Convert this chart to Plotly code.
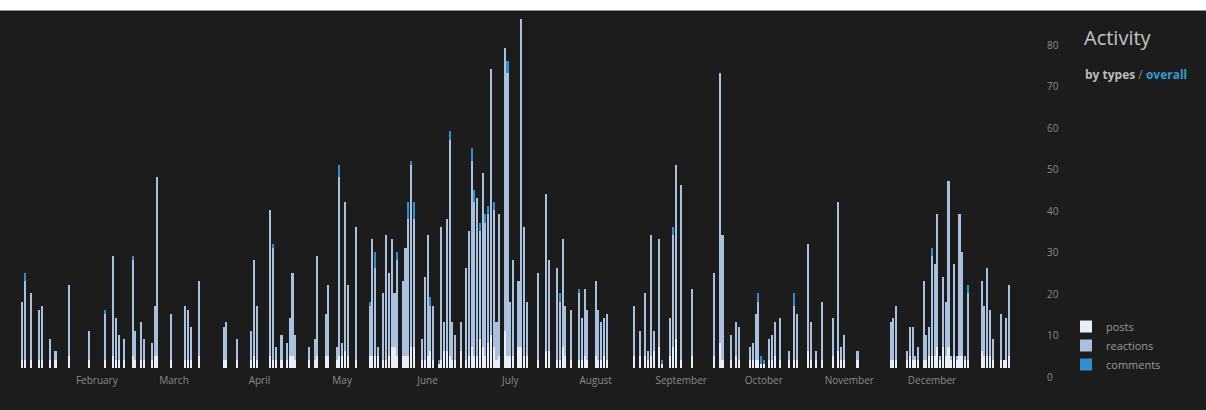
import pandas as pd
import plotly.graph_objects as go

# Day-of-year index (0 = January 1) for each day with activity
days = [4, 5, 7, 10, 11, 14, 16, 21, 28, 34, 37, 38, 39, 41, 44, 45, 47, 48, 51, 52,
        53, 58, 63, 64, 65, 68, 77, 78, 82, 87, 88, 89, 94, 95, 96, 98, 100, 101, 102, 103,
        108, 110, 111, 114, 115, 118, 119, 120, 121, 122, 125, 130, 131, 132, 133, 135, 136, 137, 138, 139,
        140, 142, 143, 144, 145, 146, 149, 150, 151, 152, 153, 155, 156, 157, 158, 159, 160, 161, 163, 165,
        166, 167, 168, 169, 170, 171, 172, 173, 174, 175, 176, 177, 179, 180, 181, 182, 184, 185, 186, 187,
        191, 194, 195, 198, 199, 200, 201, 203, 206, 207, 208, 209, 212, 213, 214, 215, 216, 226, 228, 230,
        231, 232, 233, 235, 236, 239, 240, 241, 243, 247, 255, 257, 258, 261, 263, 264, 268, 269, 270, 271,
        272, 273, 275, 276, 277, 279, 282, 284, 285, 289, 290, 292, 294, 298, 300, 301, 302, 307, 319, 320,
        321, 325, 326, 327, 328, 329, 331, 332, 333, 334, 335, 336, 337, 338, 339, 340, 341, 342, 343, 344,
        345, 346, 347, 352, 353, 354, 355, 356, 359, 360, 361, 362]

posts = [2, 2, 2, 2, 2, 2, 2, 3, 2, 2, 3, 2, 2, 2, 3, 2, 2, 2, 2, 3,
         3, 2, 2, 2, 2, 3, 2, 2, 2, 2, 3, 2, 3, 2, 2, 2, 2, 3, 3, 2,
         2, 2, 3, 3, 3, 2, 3, 3, 4, 3, 2, 3, 3, 3, 3, 2, 2, 3, 5, 5,
         3, 3, 3, 3, 5, 5, 2, 2, 3, 4, 2, 1, 2, 4, 4, 3, 2, 2, 4, 2,
         3, 5, 3, 3, 7, 5, 3, 6, 8, 5, 2, 3, 9, 3, 3, 3, 5, 5, 3, 3,
         2, 4, 4, 2, 2, 5, 3, 2, 2, 2, 3, 2, 3, 2, 2, 3, 2, 3, 3, 3,
         2, 3, 4, 5, 1, 3, 5, 7, 2, 3, 3, 6, 2, 2, 3, 2, 2, 2, 2, 2,
         1, 1, 2, 2, 3, 2, 2, 2, 2, 4, 2, 2, 2, 3, 4, 2, 2, 2, 2, 2,
         2, 2, 3, 2, 2, 2, 2, 2, 3, 3, 3, 5, 2, 5, 3, 5, 2, 3, 2, 3,
         3, 2, 2, 4, 3, 3, 3, 2, 2, 2, 2, 3]

reactions = [14, 19, 16, 12, 13, 5, 2, 17, 7, 11, 24, 10, 6, 5, 23, 7, 9, 5, 4, 12,
             43, 11, 13, 12, 8, 18, 8, 9, 5, 7, 23, 13, 35, 27, 3, 6, 4, 9, 20, 6,
             3, 5, 24, 10, 17, 3, 43, 3, 36, 17, 32, 12, 28, 21, 2, 16, 30, 20, 26, 13,
             23, 18, 26, 33, 44, 31, 5, 20, 29, 11, 13, 0, 32, 7, 32, 52, 9, 6, 7, 22,
             30, 45, 37, 38, 26, 42, 32, 31, 64, 33, 9, 34, 68, 68, 13, 23, 16, 79, 31, 13,
             21, 38, 22, 22, 14, 26, 12, 12, 16, 10, 16, 12, 18, 12, 9, 9, 11, 12, 6, 15,
             2, 29, 5, 26, 0, 9, 27, 42, 42, 16, 20, 65, 30, 6, 8, 8, 3, 4, 11, 14,
             0, 0, 5, 6, 8, 10, 2, 13, 11, 26, 9, 2, 14, 9, 36, 3, 6, 2, 9, 10,
             13, 2, 7, 8, 1, 3, 19, 6, 7, 24, 22, 32, 1, 17, 13, 40, 1, 22, 1, 34,
             25, 1, 16, 17, 12, 21, 11, 5, 11, 0, 10, 17]

comments = [0, 2, 0, 0, 0, 0, 0, 0, 0, 1, 0, 0, 0, 0, 1, 0, 0, 0, 0, 0,
            0, 0, 0, 0, 0, 0, 0, 0, 0, 0, 0, 0, 0, 1, 0, 0, 0, 0, 0, 0,
            0, 0, 0, 0, 0, 0, 3, 0, 0, 0, 0, 1, 0, 4, 0, 0, 0, 0, 0, 0,
            2, 0, 0, 4, 1, 4, 0, 0, 0, 2, 0, 1, 0, 0, 0, 2, 0, 0, 0, 0,
            0, 3, 3, 0, 2, 0, 2, 2, 0, 2, 0, 0, 0, 3, 0, 0, 0, 0, 0, 0,
            0, 0, 0, 0, 2, 0, 0, 0, 1, 0, 0, 0, 0, 0, 0, 0, 0, 0, 0, 0,
            0, 0, 0, 0, 1, 0, 2, 0, 0, 0, 0, 0, 0, 0, 0, 0, 0, 0, 0, 2,
            2, 1, 0, 0, 0, 0, 0, 3, 0, 0, 0, 0, 0, 0, 0, 0, 0, 0, 0, 0,
            0, 0, 0, 0, 0, 0, 0, 0, 0, 2, 0, 0, 0, 0, 0, 0, 0, 0, 0, 0,
            0, 0, 2, 0, 0, 0, 0, 0, 0, 0, 0, 0]

month_ticks = ["2015-02-01", "2015-03-01", "2015-04-01", "2015-05-01", "2015-06-01",
               "2015-07-01", "2015-08-01", "2015-09-01", "2015-10-01", "2015-11-01", "2015-12-01"]
month_labels = ["February", "March", "April", "May", "June", "July", "August",
                "September", "October", "November", "December"]
y_ticks = [0, 10, 20, 30, 40, 50, 60, 70, 80]

dates = pd.Timestamp("2015-01-01") + pd.to_timedelta(days, unit="D")

BG = "#1c1c1c"
C_POSTS = "#e9edf5"
C_REACT = "#a9c1de"
C_COMM = "#2f8fd0"
TXT = "#8a8a8a"
FONT = "Open Sans"

fig = go.Figure()
fig.add_trace(go.Bar(x=dates, y=posts, name="posts", marker=dict(color=C_POSTS, line=dict(width=0))))
fig.add_trace(go.Bar(x=dates, y=reactions, name="reactions", marker=dict(color=C_REACT, line=dict(width=0))))
fig.add_trace(go.Bar(x=dates, y=comments, name="comments", marker=dict(color=C_COMM, line=dict(width=0))))

W, H = 1206, 410
L, R = 10, 1016
T, B = 11, 368

fig.update_layout(
    width=W, height=H,
    barmode="stack", bargap=0.25,
    paper_bgcolor=BG, plot_bgcolor=BG,
    margin=dict(l=L, r=W - R, t=T, b=H - B, pad=0),
    font=dict(family=FONT, size=10, color=TXT),
    showlegend=True,
    legend=dict(
        x=(1066 - L) / (R - L), y=(B - 312) / (B - T),
        xanchor="left", yanchor="top",
        traceorder="normal",
        bgcolor="rgba(0,0,0,0)",
        font=dict(family=FONT, size=11, color="#9a9a9a"),
        itemwidth=30, tracegroupgap=0,
    ),
    xaxis=dict(
        type="date",
        range=[pd.Timestamp("2014-12-31 12:00"), pd.Timestamp("2015-12-31 12:00")],
        tickvals=month_ticks, ticktext=month_labels,
        showgrid=False, zeroline=False, showline=False, ticks="",
        ticklabelstandoff=5,
        tickfont=dict(family=FONT, size=10, color=TXT),
    ),
    yaxis=dict(
        side="right",
        range=[0, (B - T) / 4.15],
        tickvals=y_ticks,
        showgrid=False, zeroline=False, showline=False, ticks="",
        ticklabelstandoff=30,
        ticklabelshift=9,
        tickfont=dict(family=FONT, size=10, color=TXT),
    ),
    shapes=[dict(type="rect", xref="paper", yref="paper",
                 x0=-0.05, x1=1.25, y0=(B - 10.5) / (B - T), y1=1.1,
                 fillcolor="#ffffff", line=dict(width=0), layer="above")],
    annotations=[
        dict(text="Activity", xref="paper", yref="paper",
             x=(1082 - L) / (R - L), y=(B - 38) / (B - T), xanchor="left", yanchor="middle",
             showarrow=False, font=dict(family=FONT, size=20, color="#c4c4c4")),
        dict(text="<b>by types</b> <span style='color:#888888'>/</span> <b><span style='color:#2a9fd6'>overall</span></b>",
             xref="paper", yref="paper",
             x=(1083 - L) / (R - L), y=(B - 74) / (B - T), xanchor="left", yanchor="middle",
             showarrow=False, font=dict(family=FONT, size=12, color="#bdbdbd")),
    ],
)

fig.write_html("out.html", config={"displayModeBar": False},
               post_script="document.body.style.margin='0';")
